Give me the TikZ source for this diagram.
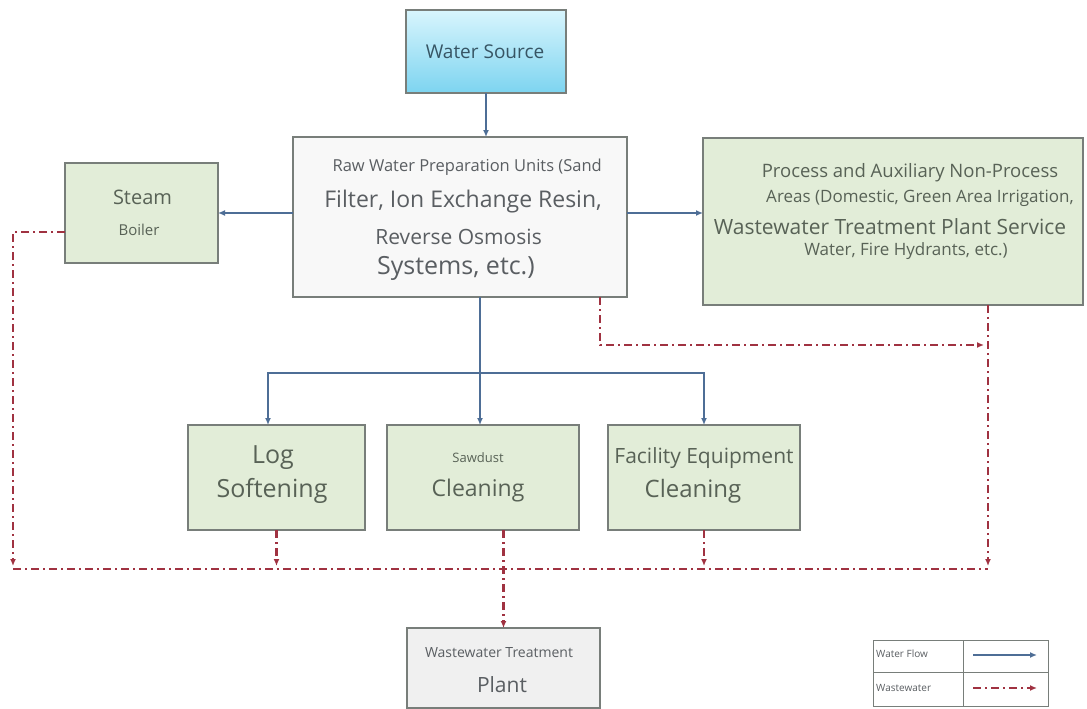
\documentclass[tikz,border=0pt]{standalone}
\usepackage{fontspec}
\setmainfont{Open Sans}
\usetikzlibrary{arrows.meta,positioning}
\definecolor{FlowBlue}{RGB}{78,110,150}
\definecolor{WasteRed}{RGB}{160,50,65}
\definecolor{BoxGreen}{RGB}{226,237,216}
\definecolor{BoxEdge}{RGB}{120,126,122}
\definecolor{RawFill}{RGB}{248,248,248}
\definecolor{PlantFill}{RGB}{240,240,240}
\definecolor{SourceTop}{RGB}{216,245,253}
\definecolor{SourceBot}{RGB}{125,212,240}
\definecolor{SourceInk}{RGB}{55,85,100}
\definecolor{InkGray}{RGB}{90,94,98}
\definecolor{InkGreen}{RGB}{88,98,86}
\tikzset{
  unit/.style={draw=BoxEdge,line width=1.4pt,inner sep=0pt,outer sep=0pt},
  greenunit/.style={unit,fill=BoxGreen},
  txt/.style={inner sep=0pt,text=InkGray},
  gtxt/.style={inner sep=0pt,text=InkGreen},
  flow/.style={->,FlowBlue,line width=2.8pt,>={Latex[length=7pt,width=6pt]}},
  waste/.style={->,WasteRed,line width=2.2pt,
    dash pattern=on 8pt off 4pt on 2pt off 4pt,>={Latex[length=7pt,width=6pt]}}
}
\newcommand\fsz[1]{\fontsize{#1}{#1}\selectfont}
\begin{document}
\begin{tikzpicture}[x=1pt,y=-1pt]
  \useasboundingbox (0,0) rectangle (1087,709);
  \fill[white] (0,0) rectangle (1087,709);

  \node[unit,top color=SourceTop,bottom color=SourceBot,
    minimum width=160pt,minimum height=83pt] (src) at (486,51.5) {};
  \node[txt,text=SourceInk,font=\fsz{19}] (srcT) at (485,52) {Water Source};

  \node[unit,fill=RawFill,minimum width=334pt,minimum height=160pt] (raw) at (460,217) {};
  \node[txt,anchor=east,font=\fsz{16.5}] (raw1) at (602,167) {Raw Water Preparation Units (Sand};
  \node[txt,anchor=east,font=\fsz{23}] (raw2) at (602,202) {Filter, Ion Exchange Resin,};
  \node[txt,anchor=east,font=\fsz{21}] (raw3) at (542,237) {Reverse Osmosis};
  \node[txt,anchor=east,font=\fsz{25}] (raw4) at (535,268) {Systems, etc.)};

  \node[greenunit,minimum width=153pt,minimum height=100pt] (steam) at (141.5,213) {};
  \node[gtxt,font=\fsz{20}] (steamA) at (142.5,197) {Steam};
  \node[gtxt,font=\fsz{15}] (steamB) at (139,230) {Boiler};

  \node[greenunit,minimum width=380pt,minimum height=167pt] (proc) at (893,221.5) {};
  \node[gtxt,font=\fsz{18.5}] (proc1) at (910,173) {Process and Auxiliary Non-Process};
  \node[gtxt,font=\fsz{17}] (proc2) at (920,198) {Areas (Domestic, Green Area Irrigation,};
  \node[gtxt,font=\fsz{21}] (proc3) at (890,227) {Wastewater Treatment Plant Service};
  \node[gtxt,font=\fsz{17}] (proc4) at (906,251) {Water, Fire Hydrants, etc.)};

  \node[greenunit,minimum width=177pt,minimum height=105pt] (log) at (276.5,477.5) {};
  \node[gtxt,font=\fsz{25}] (logA) at (273,458) {Log};
  \node[gtxt,font=\fsz{25}] (logB) at (272,491) {Softening};

  \node[greenunit,minimum width=192pt,minimum height=105pt] (saw) at (483,477.5) {};
  \node[gtxt,font=\fsz{13}] (sawA) at (478,458) {Sawdust};
  \node[gtxt,font=\fsz{23}] (sawB) at (478,491) {Cleaning};

  \node[greenunit,minimum width=192pt,minimum height=105pt] (fac) at (704,477.5) {};
  \node[gtxt,font=\fsz{21}] (facA) at (704,458) {Facility Equipment};
  \node[gtxt,font=\fsz{24}] (facB) at (693,491) {Cleaning};

  \node[unit,fill=PlantFill,minimum width=193pt,minimum height=80pt] (plant) at (503.5,668) {};
  \node[txt,font=\fsz{14}] (plantA) at (499,653) {Wastewater Treatment};
  \node[txt,font=\fsz{21}] (plantB) at (502,685) {Plant};

  \draw[flow] (src.south) -- (src.south |- raw.north);
  \draw[flow] (raw.west |- steam.east) -- (steam.east);
  \draw[flow] (raw.east |- steam.east) -- (proc.west |- steam.east);
  \coordinate (split) at (480,373);
  \draw[flow] (raw.south -| split) -- (split) -- (split |- saw.north);
  \draw[flow] (split) -| ([xshift=-8.5pt]log.north);
  \draw[flow] (split) -| (fac.north);

  \draw[waste] ([yshift=-19pt]steam.west) -| (13,566);
  \draw[waste,-] (13,569) -- (988,569);
  \draw[waste] (log.south) -- (log.south |- 0,566);
  \draw[waste] (fac.south) -- (fac.south |- 0,566);
  \draw[waste] (saw.south -| plant.north) -- (plant.north);
  \draw[waste] ([xshift=95pt]proc.south) -- (988,566);
  \draw[waste] ([xshift=140pt]raw.south) -- ++(0,48) -- (984,345);

  \draw[draw=BoxEdge,line width=1pt] (873,640) rectangle (1048,706);
  \draw[draw=BoxEdge,line width=1pt] (963,640) -- (963,706) (873,672) -- (1048,672);
  \node[txt,anchor=west,font=\fsz{10}] (keyFlow) at (876,654) {Water Flow};
  \node[txt,anchor=west,font=\fsz{10}] (keyWaste) at (876,688) {Wastewater};
  \draw[flow] (973,655) -- (1037,655);
  \draw[waste] (973,688) -- (1037,688);
\end{tikzpicture}
\end{document}
